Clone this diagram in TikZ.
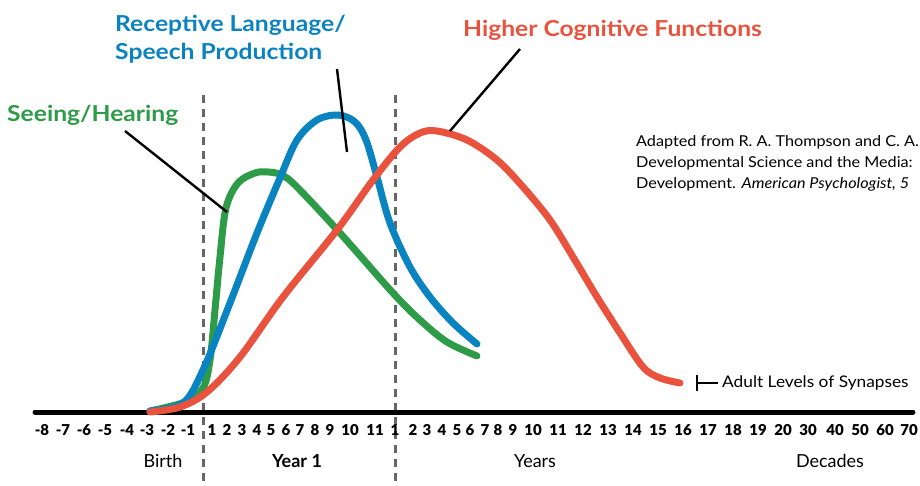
\documentclass[tikz,border=0pt]{standalone}
\usepackage{fontspec}
\setmainfont{Lato}
\newfontfamily\heavyfont{Lato Black}
\newfontfamily\widefont{Lato}[FakeStretch=1.08]
\newfontfamily\headfont{Lato}[FakeStretch=1.12]
\usetikzlibrary{positioning}
\definecolor{seegreen}{HTML}{2E9B48}
\definecolor{langblue}{HTML}{0A84C1}
\definecolor{cogred}{HTML}{E9533E}
\definecolor{dashgray}{HTML}{666666}

\begin{document}
\begin{tikzpicture}[x=1pt,y=-1pt,
  curve/.style={line width=7pt, line cap=round, line join=round},
  pointer/.style={line width=2.4pt},
  yearline/.style={dashgray, line width=3pt, dash pattern=on 8pt off 6pt},
  ticklbl/.style={font=\fontsize{15}{16}\selectfont\heavyfont, inner sep=0pt},
  agelbl/.style={font=\fontsize{18}{20}\selectfont, inner sep=0pt},
  title/.style={font=\fontsize{22}{28}\selectfont\headfont\bfseries, inner sep=0pt, anchor=west, align=left},
  note/.style={font=\fontsize{15}{21}\selectfont\widefont, inner sep=0pt, anchor=west, align=left}]
\clip (0,0) rectangle (920,486);

% year boundaries and time axis
\draw[yearline] (203,95) -- (203,486);
\draw[yearline] (395,95) -- (395,486);
\draw[line width=5pt, line cap=round] (35,412) -- (913,412);

% tick labels
\foreach \x/\t [count=\i] in {42/-8,63/-7,84/-6,105/-5,127/-4,147/-3,168/-2,188/-1,
    212/1,227/2,242/3,257/4,271/5,286/6,300/7,315/8,330/9,350/10,375/11,
    395/1,413/2,427/3,442/4,457/5,470/6,485/7,498/8,513/9,533/10,558/11,583/12,
    608/13,633/14,658/15,683/16,708/17,733/18,758/19,783/20,808/30,835/40,860/50,885/60,909/70}
  \node[ticklbl] (tick\i) at (\x,430) {\t};

\node[agelbl] (birth) at (163,461) {Birth};
\node[agelbl, font=\fontsize{18}{20}\selectfont\bfseries] (year1) at (297,461) {Year 1};
\node[agelbl] (years) at (535,461) {Years};
\node[agelbl] (decades) at (830,461) {Decades};

% synapse curves
\draw[curve, seegreen] plot[smooth, tension=0.55] coordinates {(150,411) (185,402) (203,388) (210,360) (215,310) (220,257) (226,208) (238,183) (255,173) (268,172) (282,175) (297,187) (340,233) (393,293) (420,320) (447,342) (477,356)};
\draw[curve, langblue] plot[smooth, tension=0.55] coordinates {(150,411) (183,403) (203,370) (230,303) (257,233) (280,178) (297,140) (317,120) (338,115) (355,122) (366,140) (377,177) (390,223) (410,267) (430,297) (453,323) (477,344)};
\draw[curve, cogred] plot[smooth, tension=0.55] coordinates {(150,412) (180,407) (207,392) (240,357) (283,297) (337,230) (373,180) (400,147) (420,133) (437,131) (467,140) (497,160) (523,187) (550,220) (573,257) (597,297) (620,333) (643,367) (660,378) (680,383)};

% labels and pointers
\node[title, seegreen] (seeing) at (7,115) {Seeing/Hearing};
\node[title, langblue] (language) at (115,39) {Receptive Language/\\Speech Production};
\node[title, cogred] (higher) at (463,30) {Higher Cognitive Functions};

\coordinate (seeing tip) at (227,212);
\coordinate (language tip) at (347,152);
\coordinate (higher tip) at (450,131);
\draw[pointer] (125,131) -- (seeing tip);
\draw[pointer] (337,69) -- (language tip);
\draw[pointer] (520,49) -- (higher tip);

\node[note] (source) at (636,163) {Adapted from R. A. Thompson and C. A.\\Developmental Science and the Media:\\Development. \textit{American Psychologist, 5}};

\coordinate (adult bar) at (697,383);
\draw[line width=1.2pt] ([yshift=-8pt]adult bar) -- ([yshift=8pt]adult bar);
\draw[line width=1.2pt] (adult bar) -- (718,383);
\node[note, font=\fontsize{16}{21}\selectfont\widefont] (adult) at (722,383) {Adult Levels of Synapses};
\end{tikzpicture}
\end{document}
